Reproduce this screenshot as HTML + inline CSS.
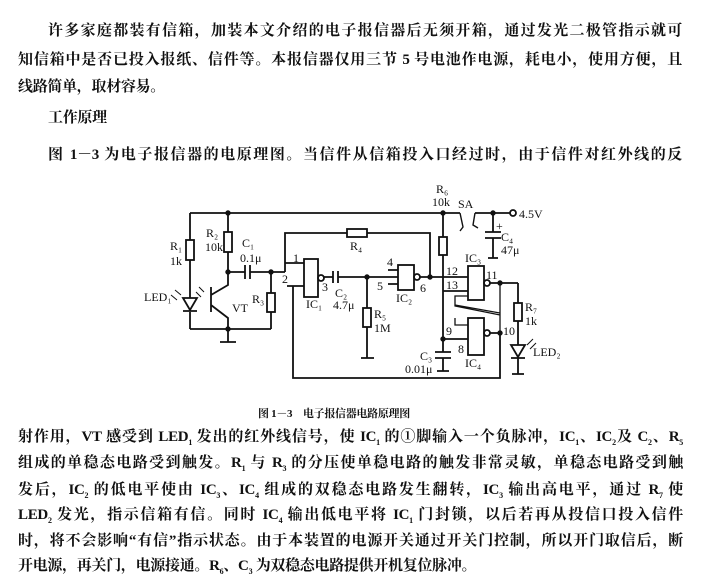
<!DOCTYPE html>
<html><head><meta charset="utf-8"><style>
body{margin:0;width:705px;height:579px;background:#fff;position:relative;overflow:hidden;font-family:"Liberation Serif","Noto Serif CJK SC","Noto Sans CJK SC",serif;color:#111}
.l{position:absolute;font-size:15px;white-space:nowrap;line-height:20px;text-align:justify;text-align-last:justify;font-weight:bold;letter-spacing:-0.3px}
.l sub{font-size:8px;line-height:0}
svg{position:absolute;left:0;top:0}
svg text{font-family:"Liberation Serif",serif;font-size:12px;fill:#111}
</style></head><body>
<div class="l" style="left:48px;top:21px;width:634px">许多家庭都装有信箱，加装本文介绍的电子报信器后无须开箱，通过发光二极管指示就可</div>
<div class="l" style="left:18px;top:50px;width:664px">知信箱中是否已投入报纸、信件等。本报信器仅用三节 5 号电池作电源，耗电小，使用方便，且</div>
<div class="l" style="left:18px;top:77px;text-align-last:auto">线路简单，取材容易。</div>
<div class="l" style="left:48px;top:108px;text-align-last:auto">工作原理</div>
<div class="l" style="left:48px;top:145px;width:634px">图 1－3 为电子报信器的电原理图。当信件从信箱投入口经过时，由于信件对红外线的反</div>
<div class="l" style="left:258px;top:404px;font-size:11px;text-align-last:auto">图 1－3　电子报信器电路原理图</div>
<div class="l" style="left:18px;top:427px;width:665px">射作用，VT 感受到 LED<sub>1</sub> 发出的红外线信号，使 IC<sub>1</sub> 的①脚输入一个负脉冲，IC<sub>1</sub>、IC<sub>2</sub>及 C<sub>2</sub>、R<sub>5</sub></div>
<div class="l" style="left:18px;top:453px;width:665px">组成的单稳态电路受到触发。R<sub>1</sub> 与 R<sub>3</sub> 的分压使单稳电路的触发非常灵敏，单稳态电路受到触</div>
<div class="l" style="left:18px;top:480px;width:665px">发后，IC<sub>2</sub> 的低电平使由 IC<sub>3</sub>、IC<sub>4</sub> 组成的双稳态电路发生翻转，IC<sub>3</sub> 输出高电平，通过 R<sub>7</sub> 使</div>
<div class="l" style="left:18px;top:505px;width:665px">LED<sub>2</sub> 发光，指示信箱有信。同时 IC<sub>4</sub> 输出低电平将 IC<sub>1</sub> 门封锁，以后若再从投信口投入信件</div>
<div class="l" style="left:18px;top:531px;width:665px">时，将不会影响“有信”指示状态。由于本装置的电源开关通过开关门控制，所以开门取信后，断</div>
<div class="l" style="left:18px;top:556px;text-align-last:auto">开电源，再关门，电源接通。R<sub>6</sub>、C<sub>3</sub> 为双稳态电路提供开机复位脉冲。</div>

<svg width="705" height="579" viewBox="0 0 705 579" fill="none" stroke="#111" stroke-width="1.8">
<path d="M190 213H460M475 213H510"/>
<circle cx="513" cy="213" r="3" fill="#fff"/>
<text x="519" y="218" stroke="none" font-size="12">4.5V</text>
<path d="M190 213V240M190 260V298M190 312V329"/>
<rect x="186" y="240" width="8" height="20"/>
<text x="170" y="250" stroke="none">R₁</text><text x="170" y="265" stroke="none">1k</text>
<path d="M183 298H197L190 310ZM183 311H197"/>
<text x="144" y="301" stroke="none">LED₁</text>
<path d="M175 290l6 5M171 295l6 5" stroke-width="1"/>
<path d="M228 213V232M228 252V272"/>
<rect x="224" y="232" width="8" height="20"/>
<text x="206" y="237" stroke="none">R₂</text><text x="205" y="251" stroke="none">10k</text>
<circle cx="228" cy="213" r="1.8" fill="#111"/>
<circle cx="228" cy="272" r="1.8" fill="#111"/>
<path d="M228 272V285L211 295M211 287V312M211 305L228 318V329"/>
<path d="M199 287l5 5M196 292l5 5" stroke-width="1"/>
<text x="232" y="312" stroke="none">VT</text>
<path d="M190 329H271M228 329V342M220 342H236"/>
<circle cx="228" cy="329" r="1.8" fill="#111"/>
<path d="M228 272H245M245 265V279M250 265V279M250 272H285"/>
<text x="242" y="247" stroke="none">C₁</text><text x="240" y="262" stroke="none">0.1μ</text>
<circle cx="271" cy="272" r="1.8" fill="#111"/>
<path d="M271 272V293M271 312V329"/>
<rect x="267" y="293" width="8" height="19"/>
<text x="252" y="303" stroke="none">R₃</text>
<path d="M285 272V233H347M367 233H430V277"/>
<rect x="347" y="229" width="20" height="8"/>
<text x="350" y="250" stroke="none">R₄</text>
<path d="M285 263H304M287 286H304"/>
<text x="293" y="262" stroke="none">1</text><text x="282" y="283" stroke="none">2</text>
<rect x="304" y="259" width="14" height="38"/>
<circle cx="321" cy="278" r="3"/>
<text x="306" y="308" stroke="none">IC₁</text>
<text x="322" y="291" stroke="none" font-size="10">3</text>
<path d="M324 277H333M333 271V283M338 271V283M338 277H398"/>
<text x="335" y="297" stroke="none">C₂</text><text x="333" y="309" stroke="none">4.7μ</text>
<circle cx="367" cy="277" r="1.8" fill="#111"/>
<path d="M367 277V308M367 327V358M361 358H374"/>
<rect x="363" y="308" width="8" height="19"/>
<text x="374" y="318" stroke="none">R₅</text><text x="374" y="332" stroke="none">1M</text>
<path d="M388 270H398M388 284H398"/>
<rect x="398" y="265" width="16" height="25"/>
<circle cx="417" cy="277" r="3"/>
<path d="M420 277H468"/>
<text x="387" y="266" stroke="none" font-size="11">4</text><text x="377" y="290" stroke="none" font-size="11">5</text>
<text x="420" y="292" stroke="none" font-size="11">6</text>
<text x="396" y="302" stroke="none" font-size="10">IC₂</text>
<circle cx="430" cy="277" r="1.8" fill="#111"/>
<path d="M443 213V237M443 255V352"/>
<rect x="439" y="237" width="8" height="18"/>
<circle cx="443" cy="213" r="1.8" fill="#111"/>
<text x="436" y="193" stroke="none">R₆</text><text x="432" y="206" stroke="none">10k</text>
<path d="M460 213l3 14l-3 4M475 213l-2 12l5 3" stroke-width="1.4"/>
<text x="458" y="208" stroke="none">SA</text>
<circle cx="493" cy="213" r="1.8" fill="#111"/>
<path d="M493 213V232M485 232H501M485 238H501M493 238V258M488 258H498"/>
<text x="496" y="230" stroke="none" font-size="9">+</text>
<text x="501" y="241" stroke="none">C₄</text><text x="501" y="254" stroke="none">47μ</text>
<circle cx="443" cy="339" r="1.8" fill="#111"/>
<path d="M435 352H451M435 358H451M443 358V371M437 371H449"/>
<text x="420" y="360" stroke="none">C₃</text><text x="405" y="373" stroke="none">0.01μ</text>
<rect x="468" y="266" width="16" height="34"/>
<circle cx="487" cy="283" r="3"/>
<path d="M443 291H468M490 283H518"/>
<text x="446" y="275" stroke="none">12</text><text x="446" y="289" stroke="none">13</text>
<text x="486" y="279" stroke="none">11</text>
<text x="465" y="262" stroke="none">IC₃</text>
<rect x="468" y="318" width="16" height="37"/>
<circle cx="487" cy="333" r="3"/>
<path d="M443 339H468M490 333H500"/>
<text x="446" y="335" stroke="none">9</text><text x="458" y="353" stroke="none">8</text>
<text x="503" y="335" stroke="none">10</text>
<text x="465" y="367" stroke="none">IC₄</text>
<path d="M468 296H455V306L500 315V283M500 333V313L455 305" stroke-width="1.3"/>
<path d="M468 325H455V318" stroke-width="1.3"/>
<circle cx="500" cy="283" r="1.8" fill="#111"/>
<circle cx="500" cy="333" r="1.8" fill="#111"/>
<path d="M293 286V378H500V333"/>
<path d="M518 283V303M518 321V345M518 358V374M512 374H524"/>
<rect x="514" y="303" width="8" height="18"/>
<text x="525" y="311" stroke="none">R₇</text><text x="525" y="325" stroke="none">1k</text>
<path d="M511 345H525L518 357ZM511 358H525"/>
<path d="M527 345l6-6M530 349l6-6" stroke-width="1"/>
<text x="533" y="356" stroke="none" font-size="11">LED₂</text>
</svg>
</body></html>
